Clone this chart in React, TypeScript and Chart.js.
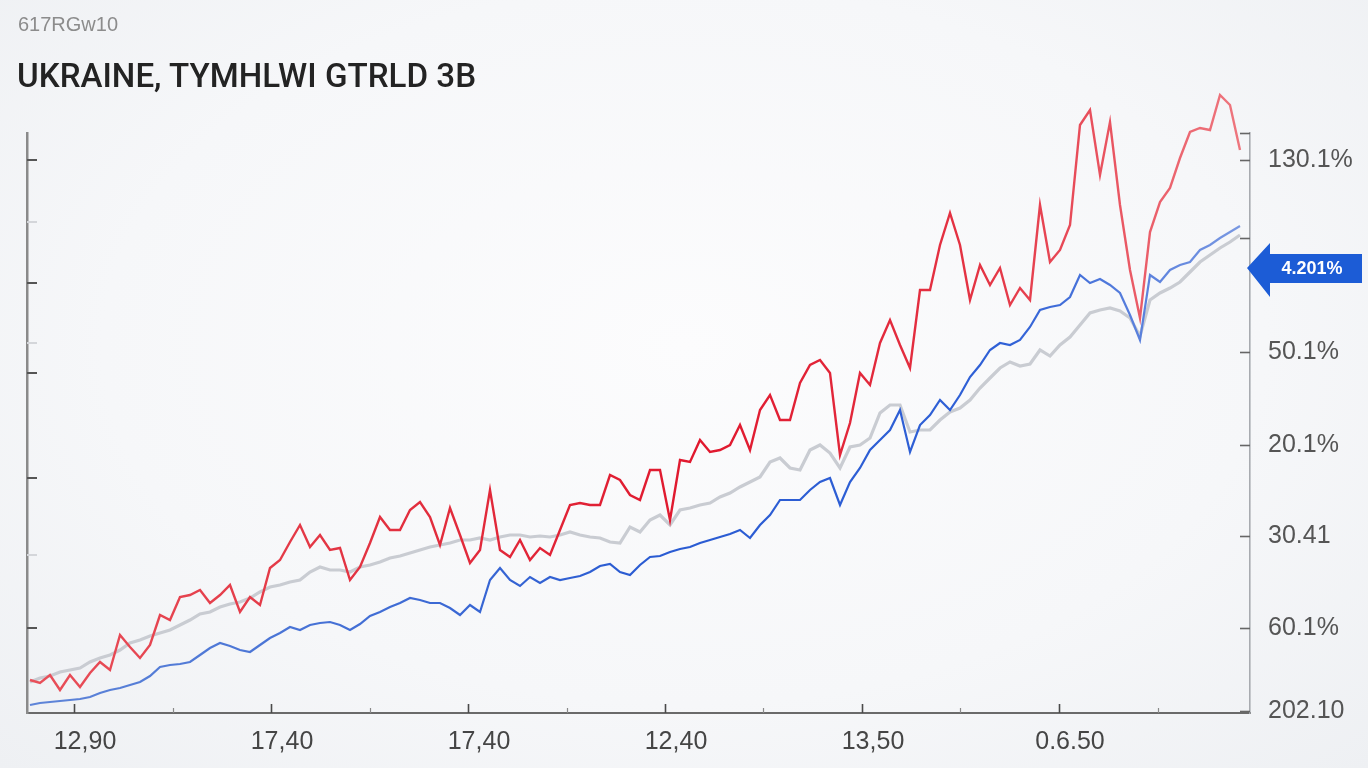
import React, { useEffect, useRef } from "react";
import { Chart, registerables } from "chart.js";

Chart.register(...registerables);

const TITLE = "UKRAINE, TYMHLWI GTRLD 3B";
const SUBTITLE = "617RGw10";

const X_TICK_POS = [4.4, 24.1, 43.8, 63.5, 83.2, 102.9];
const X_MINOR_POS = [14.25, 33.95, 53.65, 73.35, 93.05, 112.75];
const X_LABELS = ["12,90", "17,40", "17,40", "12,40", "13,50", "0.6.50"];

const Y_RIGHT_POS = [553, 361, 268, 177, 85, 2];
const Y_RIGHT_LABELS = ["130.1%", "50.1%", "20.1%", "30.41", "60.1%", "202.10"];
const Y_LEFT_MAJOR = [553, 430, 340, 235, 85];
const Y_LEFT_MINOR = [491, 370, 158];

const FLAG_VALUE = 445;
const FLAG_LABEL = "4.201%";

const RED = [
  33, 30, 38, 23, 38, 26, 40, 51, 43, 78, 66, 55, 68, 98, 93, 116, 118, 123, 110, 118,
  128, 101, 116, 108, 145, 153, 171, 188, 166, 178, 163, 165, 133, 146, 170, 196, 183, 183, 203, 211,
  196, 168, 205, 178, 150, 163, 223, 163, 156, 173, 153, 165, 158, 183, 208, 210, 208, 208, 238, 233,
  218, 213, 243, 243, 193, 253, 251, 273, 261, 263, 268, 288, 263, 303, 318, 293, 293, 330, 348, 353,
  340, 258, 290, 340, 328, 370, 393, 368, 345, 423, 423, 468, 500, 468, 413, 448, 428, 445, 408, 425,
  413, 508, 451, 463, 488, 588, 603, 538, 591, 508, 443, 395, 481, 511, 525, 555, 581, 585, 583, 618,
  608, 563,
];

const GRAY = [
  31, 35, 37, 41, 43, 45, 51, 55, 58, 63, 70, 73, 77, 80, 83, 88, 93, 99, 101, 106,
  109, 111, 115, 121, 126, 128, 131, 133, 141, 146, 143, 143, 141, 146, 148, 151, 155, 157, 160, 163,
  166, 168, 170, 173, 173, 175, 173, 176, 178, 178, 176, 177, 176, 178, 181, 178, 176, 175, 171, 170,
  186, 181, 193, 198, 188, 203, 205, 208, 210, 216, 220, 226, 231, 236, 251, 255, 245, 243, 263, 268,
  260, 245, 266, 268, 275, 300, 308, 308, 281, 283, 283, 293, 301, 305, 313, 325, 335, 345, 351, 347,
  349, 363, 357, 368, 376, 388, 400, 403, 405, 402, 395, 377, 413, 420, 425, 431, 441, 451, 458, 465,
  471, 478,
];

const BLUE = [
  8, 10, 11, 12, 13, 14, 16, 20, 23, 25, 28, 31, 37, 46, 48, 49, 51, 58, 65, 70,
  67, 63, 61, 68, 75, 80, 86, 83, 88, 90, 91, 88, 83, 89, 97, 101, 106, 110, 115, 113,
  110, 110, 105, 98, 108, 101, 133, 145, 133, 127, 136, 130, 136, 133, 135, 137, 141, 147, 149, 141,
  138, 148, 156, 157, 161, 164, 166, 170, 173, 176, 179, 183, 175, 188, 198, 213, 213, 213, 223, 231,
  235, 208, 231, 245, 263, 273, 283, 303, 261, 288, 298, 313, 303, 318, 336, 348, 363, 370, 368, 373,
  386, 403, 406, 408, 416, 438, 430, 434, 428, 420, 398, 373, 438, 431, 443, 448, 451, 463, 468, 475,
  481, 487,
];

const toPoints = (arr: number[]) => arr.map((v, i) => ({ x: i, y: v }));

function lineGradient(chart: any, stops: [number, string][]) {
  const ca = chart.chartArea;
  if (!ca) return stops[0][1];
  const g = chart.ctx.createLinearGradient(ca.left, 0, ca.right, 0);
  stops.forEach(([o, c]) => g.addColorStop(o, c));
  return g;
}

const decorPlugin = {
  id: "decor",
  afterDatasetsDraw(chart: any) {
    const { ctx, chartArea: ca, scales } = chart;
    const xs = scales.x;
    const ys = scales.y;
    ctx.save();
    ctx.lineCap = "butt";
    ctx.strokeStyle = "#4a4a4a";
    ctx.lineWidth = 1.6;
    X_TICK_POS.forEach((v) => {
      const px = Math.round(xs.getPixelForValue(v)) + 0.5;
      ctx.beginPath();
      ctx.moveTo(px, ca.bottom);
      ctx.lineTo(px, ca.bottom - 9);
      ctx.stroke();
    });
    ctx.strokeStyle = "#8a8a8a";
    ctx.lineWidth = 1.2;
    X_MINOR_POS.forEach((v) => {
      const px = Math.round(xs.getPixelForValue(v)) + 0.5;
      ctx.beginPath();
      ctx.moveTo(px, ca.bottom);
      ctx.lineTo(px, ca.bottom - 5);
      ctx.stroke();
    });
    ctx.strokeStyle = "#555";
    ctx.lineWidth = 2;
    Y_LEFT_MAJOR.forEach((v) => {
      const py = Math.round(ys.getPixelForValue(v));
      ctx.beginPath();
      ctx.moveTo(ca.left, py);
      ctx.lineTo(ca.left + 10, py);
      ctx.stroke();
    });
    ctx.strokeStyle = "#d4d6da";
    Y_LEFT_MINOR.forEach((v) => {
      const py = Math.round(ys.getPixelForValue(v));
      ctx.beginPath();
      ctx.moveTo(ca.left, py);
      ctx.lineTo(ca.left + 10, py);
      ctx.stroke();
    });
    ctx.strokeStyle = "#666";
    ctx.lineWidth = 1.6;
    [ys.max, ...Y_RIGHT_POS, FLAG_VALUE + 30].forEach((v) => {
      const py = Math.round(ys.getPixelForValue(v)) + 0.5;
      ctx.beginPath();
      ctx.moveTo(ca.right - 10, py);
      ctx.lineTo(ca.right, py);
      ctx.stroke();
    });
    const fy = ys.getPixelForValue(FLAG_VALUE);
    const tip = ca.right - 3;
    const bodyL = ca.right + 20;
    const bodyR = ca.right + 112;
    ctx.fillStyle = "#1c5cd6";
    ctx.beginPath();
    ctx.moveTo(tip, fy);
    ctx.lineTo(bodyL, fy - 25);
    ctx.lineTo(bodyL, fy - 14);
    ctx.lineTo(bodyR, fy - 14);
    ctx.lineTo(bodyR, fy + 15);
    ctx.lineTo(bodyL, fy + 15);
    ctx.lineTo(bodyL, fy + 29);
    ctx.closePath();
    ctx.fill();
    ctx.fillStyle = "#ffffff";
    ctx.font = 'bold 18px "Liberation Sans", Arial, sans-serif';
    ctx.textAlign = "center";
    ctx.textBaseline = "middle";
    ctx.fillText(FLAG_LABEL, (bodyL + bodyR) / 2 - 4, fy + 1);
    ctx.restore();
  },
};

export default function App() {
  const canvasRef = useRef<HTMLCanvasElement | null>(null);

  useEffect(() => {
    const canvas = canvasRef.current;
    if (!canvas) return;
    const chart = new Chart(canvas, {
      type: "line",
      data: {
        datasets: [
          {
            data: toPoints(RED),
            borderColor: (c: any) =>
              lineGradient(c.chart, [
                [0, "#e8505a"],
                [0.3, "#e2303f"],
                [0.55, "#e0182e"],
                [0.78, "#e43444"],
                [1, "#ee7880"],
              ]),
            borderWidth: 2.4,
            pointRadius: 0,
            tension: 0,
            clip: false as any,
          },
          {
            data: toPoints(BLUE),
            borderColor: (c: any) =>
              lineGradient(c.chart, [
                [0, "#5f85d8"],
                [0.5, "#2a5bd2"],
                [0.8, "#2f60d6"],
                [1, "#7c9ae2"],
              ]),
            borderWidth: 2.2,
            pointRadius: 0,
            tension: 0,
            clip: false as any,
          },
          {
            data: toPoints(GRAY),
            borderColor: "#c9ccd2",
            borderWidth: 3.2,
            pointRadius: 0,
            tension: 0,
            clip: false as any,
          },
        ],
      },
      options: {
        animation: false,
        responsive: false,
        maintainAspectRatio: false,
        layout: { padding: { top: 133, left: 0, right: 0, bottom: 0 } },
        plugins: { legend: { display: false }, tooltip: { enabled: false } },
        scales: {
          x: {
            type: "linear",
            min: -0.3,
            max: 122,
            afterBuildTicks: (s: any) => {
              s.ticks = X_TICK_POS.map((v) => ({ value: v }));
            },
            afterFit: (s: any) => {
              s.height = 55;
            },
            grid: { display: true, drawOnChartArea: false, drawTicks: false },
            border: { display: true, color: "#6a6a6a", width: 2 },
            ticks: {
              autoSkip: false,
              maxRotation: 0,
              padding: 14,
              labelOffset: 11,
              color: "#454545",
              font: { family: '"Liberation Sans", Arial, sans-serif', size: 25 },
              callback: (_v: any, i: number) => X_LABELS[i],
            },
          },
          y: {
            type: "linear",
            position: "right",
            min: 0,
            max: 580,
            afterBuildTicks: (s: any) => {
              s.ticks = Y_RIGHT_POS.map((v) => ({ value: v }));
            },
            afterFit: (s: any) => {
              s.width = 118;
            },
            grid: { display: true, drawOnChartArea: false, drawTicks: false },
            border: { display: true, color: "#a8abb0", width: 1.6 },
            ticks: {
              autoSkip: false,
              padding: 18,
              color: "#555",
              font: { family: '"Liberation Sans", Arial, sans-serif', size: 25 },
              callback: (_v: any, i: number) => Y_RIGHT_LABELS[i],
            },
          },
          yl: {
            type: "linear",
            position: "left",
            min: 0,
            max: 580,
            afterFit: (s: any) => {
              s.width = 27;
            },
            grid: { display: true, drawOnChartArea: false, drawTicks: false },
            border: { display: true, color: "#8a8a8a", width: 2.5 },
            ticks: { display: false },
          },
        },
      },
      plugins: [decorPlugin],
    });
    return () => chart.destroy();
  }, []);

  return (
    <div
      style={{
        position: "fixed",
        left: 0,
        top: 0,
        width: 1368,
        height: 768,
        overflow: "hidden",
        background: "radial-gradient(ellipse at 50% 45%, #fcfcfd 0%, #f6f7f9 60%, #eef0f3 100%)",
        fontFamily: '"Liberation Sans", Arial, sans-serif',
      }}
    >
      <div
        style={{
          position: "absolute",
          left: 18,
          top: 14,
          fontSize: 20,
          lineHeight: "20px",
          color: "#8c8c8c",
          whiteSpace: "nowrap",
        }}
      >
        {SUBTITLE}
      </div>
      <div
        style={{
          position: "absolute",
          left: 17,
          top: 58,
          fontFamily: "Roboto, 'Liberation Sans', Arial, sans-serif",
          fontWeight: 500,
          fontSize: 34,
          lineHeight: "34px",
          color: "#232323",
          whiteSpace: "nowrap",
          transform: "scaleX(0.975)",
          transformOrigin: "left center",
        }}
      >
        {TITLE}
      </div>
      <canvas
        ref={canvasRef}
        width={1368}
        height={768}
        style={{ position: "absolute", left: 0, top: 0, width: 1368, height: 768 }}
      />
    </div>
  );
}
